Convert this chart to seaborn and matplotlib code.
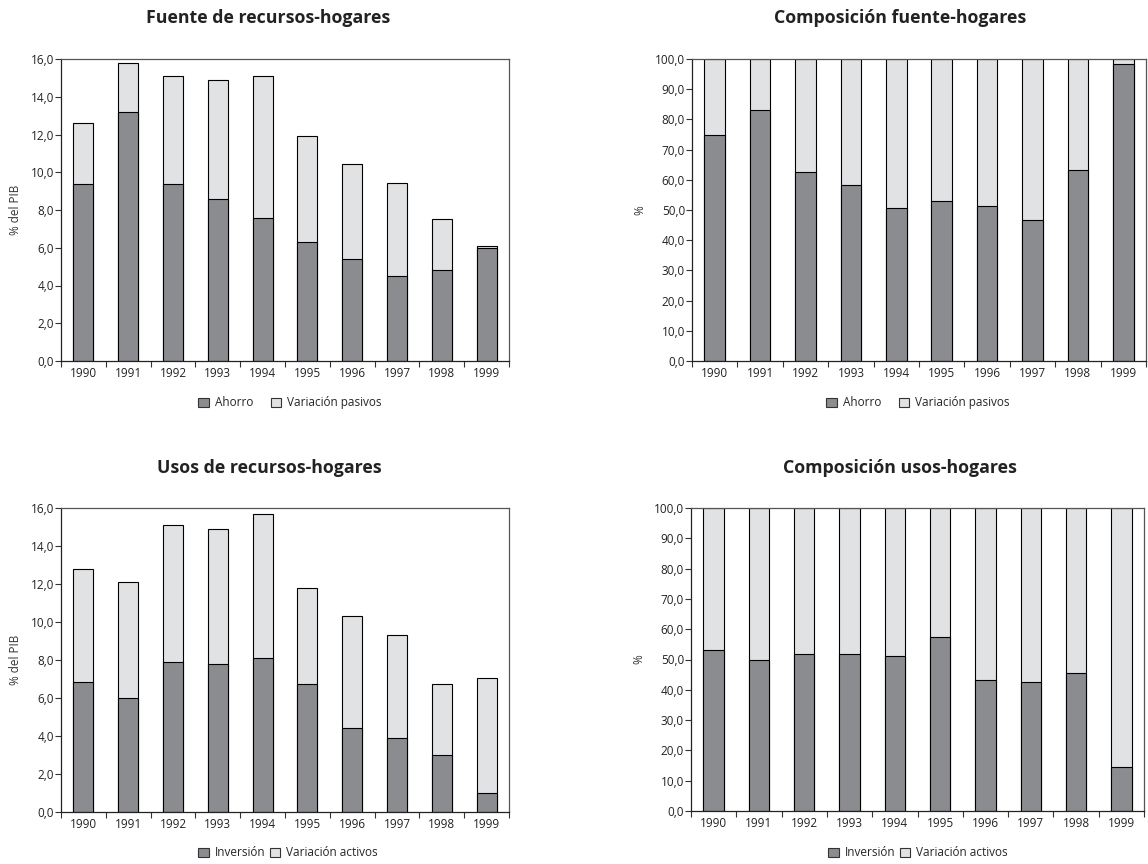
import numpy as np
import pandas as pd
import seaborn as sns
import matplotlib
matplotlib.use('Agg')
import matplotlib.pyplot as plt
from matplotlib.patches import Patch
from matplotlib.ticker import FuncFormatter, FixedLocator

# data
years = ['1990', '1991', '1992', '1993', '1994', '1995', '1996', '1997', '1998', '1999']

ahorro = [9.4, 13.2, 9.4, 8.6, 7.6, 6.3, 5.4, 4.5, 4.8, 6.0]
var_pasivos = [3.2, 2.6, 5.7, 6.3, 7.5, 5.6, 5.05, 4.95, 2.7, 0.1]

ahorro_pct = [75.0, 83.2, 62.5, 58.2, 50.6, 53.1, 51.3, 46.8, 63.2, 98.2]

inversion = [6.85, 6.0, 7.9, 7.8, 8.1, 6.75, 4.4, 3.9, 3.0, 1.0]
var_activos = [5.95, 6.1, 7.2, 7.1, 7.6, 5.05, 5.9, 5.4, 3.75, 6.05]

inversion_pct = [53.1, 50.0, 51.9, 51.9, 51.2, 57.5, 43.1, 42.5, 45.6, 14.5]

DARK = '#8b8c90'
LIGHT = '#e1e2e4'

sns.set_style('white')
plt.rcParams['font.family'] = ['Open Sans', 'DejaVu Sans']

fig = plt.figure(figsize=(11.48, 8.64), dpi=100)


def comma(v, pos):
    return f"{v:.1f}".replace('.', ',')


def stacked(rect, base, top, ymax, ystep, ylabel, title, title_x, title_y,
            labels, leg_x, leg_y, colspace):
    ax = fig.add_axes(rect)
    df = pd.DataFrame({'year': years, 'base': base,
                       'total': np.array(base) + np.array(top)})
    sns.barplot(data=df, x='year', y='total', color=LIGHT, saturation=1,
                width=0.45, edgecolor='black', linewidth=0.8, ax=ax)
    sns.barplot(data=df, x='year', y='base', color=DARK, saturation=1,
                width=0.45, edgecolor='black', linewidth=0.8, ax=ax)
    ax.set_xlim(-0.5, 9.5)
    ax.set_ylim(0, ymax)
    ax.set_yticks(np.arange(0, ymax + 0.01, ystep))
    ax.yaxis.set_major_formatter(FuncFormatter(comma))
    ax.set_xlabel('')
    ax.set_ylabel(ylabel, fontsize=8.5, color='#333333', labelpad=6)
    ax.xaxis.set_minor_locator(FixedLocator(np.arange(-0.5, 10, 1)))
    ax.tick_params(axis='x', which='major', length=0, pad=4,
                   labelsize=8.5, labelcolor='#222222')
    ax.tick_params(axis='x', which='minor', length=4, width=0.8,
                   direction='out', bottom=True, color='#333333')
    ax.tick_params(axis='y', length=4, width=0.8, direction='out', left=True,
                   pad=1, labelsize=8.5, labelcolor='#222222', color='#333333')
    for s in ax.spines.values():
        s.set_visible(True)
        s.set_color('#555555')
        s.set_linewidth(0.9)
    ax.spines['left'].set_color('#222222')
    ax.spines['bottom'].set_color('#222222')
    fig.text(title_x, title_y, title, ha='center', va='center',
             fontsize=12.8, fontweight='bold', color='#222222')
    handles = [Patch(facecolor=DARK, edgecolor='#333333', linewidth=0.8),
               Patch(facecolor=LIGHT, edgecolor='#333333', linewidth=0.8)]
    fig.legend(handles, labels, loc='center',
               bbox_to_anchor=(leg_x, leg_y), ncol=2, frameon=False,
               fontsize=8.5, handlelength=0.9, handleheight=0.9,
               handletextpad=0.5, columnspacing=colspace)
    return ax


W, H = 1148, 864

stacked([61 / W, 1 - 361 / H, 448 / W, 302 / H], ahorro, var_pasivos,
        16, 2, '% del PIB', 'Fuente de recursos-hogares', 268 / W, 1 - 18 / H,
        ['Ahorro', 'Variación pasivos'], 290 / W, 1 - 403 / H, 1.5)

stacked([692 / W, 1 - 361 / H, 454 / W, 302 / H], ahorro_pct,
        [100 - v for v in ahorro_pct],
        100, 10, '%', 'Composición fuente-hogares', 900 / W, 1 - 18 / H,
        ['Ahorro', 'Variación pasivos'], 918 / W, 1 - 403 / H, 1.5)

stacked([61 / W, 1 - 812 / H, 448 / W, 304 / H], inversion, var_activos,
        16, 2, '% del PIB', 'Usos de recursos-hogares', 269 / W, 1 - 468 / H,
        ['Inversión', 'Variación activos'], 288 / W, 1 - 853 / H, 0.4)

stacked([691 / W, 1 - 811 / H, 453 / W, 303 / H], inversion_pct,
        [100 - v for v in inversion_pct],
        100, 10, '%', 'Composición usos-hogares', 900 / W, 1 - 468 / H,
        ['Inversión', 'Variación activos'], 918 / W, 1 - 853 / H, 0.4)

fig.savefig('out.png', dpi=100)
